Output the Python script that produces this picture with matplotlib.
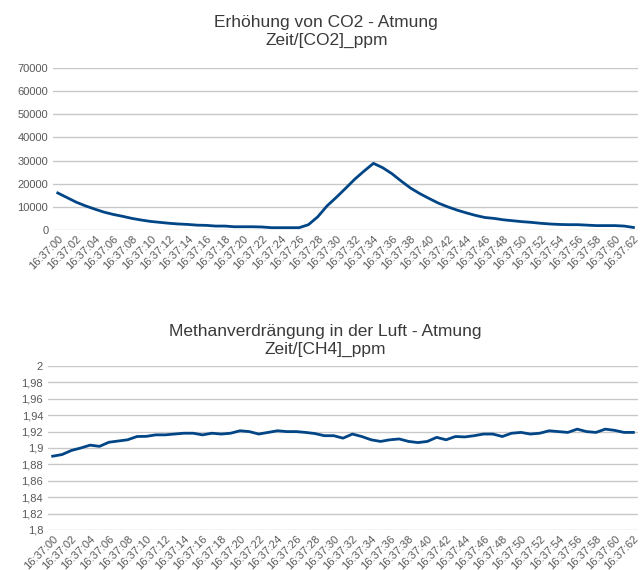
import matplotlib.pyplot as plt
from matplotlib.ticker import FuncFormatter, MultipleLocator

# time stamps as printed on the chart (seconds run 00..62)
zeit = [f"16:37:{s:02d}" for s in range(63)]

co2_ppm = [
    16000, 14000, 12000, 10400, 9000, 7700, 6700, 5900, 5000, 4300,
    3700, 3300, 2900, 2600, 2400, 2100, 2000, 1700, 1700, 1400,
    1400, 1400, 1300, 1000, 1000, 1000, 1000, 2300, 5700, 10400,
    14100, 18000, 22000, 25500, 28800, 26900, 24300, 21100, 18100, 15700,
    13600, 11600, 10000, 8600, 7400, 6300, 5400, 5000, 4400, 4000,
    3600, 3300, 2900, 2600, 2400, 2300, 2300, 2100, 1900, 1900,
    1900, 1700, 1100,
]

ch4_ppm = [
    1.890, 1.892, 1.897, 1.900, 1.9035, 1.902, 1.907, 1.9085, 1.910, 1.914,
    1.9142, 1.916, 1.916, 1.917, 1.918, 1.918, 1.916, 1.918, 1.917, 1.918,
    1.921, 1.920, 1.917, 1.919, 1.921, 1.920, 1.920, 1.919, 1.9176, 1.915,
    1.915, 1.912, 1.917, 1.914, 1.910, 1.908, 1.910, 1.911, 1.908, 1.9066,
    1.908, 1.913, 1.910, 1.914, 1.9135, 1.915, 1.917, 1.917, 1.914, 1.918,
    1.919, 1.917, 1.918, 1.921, 1.920, 1.919, 1.923, 1.920, 1.919, 1.923,
    1.9215, 1.919, 1.919,
]

LINE = '#004586'
TXT = '#595959'
TITLE = '#3a3a3a'
GRID = '#c8c8c8'

plt.rcParams['font.family'] = ['Liberation Sans', 'DejaVu Sans']


def style_axes(ax, title, title_x, pad):
    x = range(len(zeit))
    ax.set_xlim(-0.5, len(zeit) - 0.5)
    ax.set_xticks(list(x)[::2])
    ax.set_xticklabels(zeit[::2], rotation=45, ha='right', va='top',
                       rotation_mode='anchor', fontsize=8, color=TXT)
    ax.tick_params(axis='both', length=0, labelsize=8, labelcolor=TXT)
    ax.tick_params(axis='x', pad=3)
    for s in ax.spines.values():
        s.set_visible(False)
    ax.grid(axis='y', color=GRID, linewidth=1)
    ax.set_axisbelow(True)
    ax.set_title(title, fontsize=12.5, color=TITLE, pad=pad, x=title_x,
                 linespacing=1.2)


fig = plt.figure(figsize=(6.4, 5.7), dpi=100)

# CO2 chart
ax1 = fig.add_axes([0.083, 0.5965, 0.914, 0.2842])
ax1.plot(range(len(co2_ppm)), co2_ppm, color=LINE, linewidth=2)
ax1.set_ylim(0, 70000)
ax1.yaxis.set_major_locator(MultipleLocator(10000))
style_axes(ax1, 'Erhöhung von CO2 - Atmung\nZeit/[CO2]_ppm', 0.467, 17)

# CH4 chart
ax2 = fig.add_axes([0.075, 0.0702, 0.922, 0.2877])
ax2.plot(range(len(ch4_ppm)), ch4_ppm, color=LINE, linewidth=2)
ax2.set_ylim(1.8, 2.0)
ax2.yaxis.set_major_locator(MultipleLocator(0.02))
ax2.yaxis.set_major_formatter(FuncFormatter(
    lambda v, p: f"{v:.2f}".rstrip('0').rstrip('.').replace('.', ',')))
style_axes(ax2, 'Methanverdrängung in der Luft - Atmung\nZeit/[CH4]_ppm',
           0.47, 9)

fig.savefig('out.png', dpi=100)
plt.close(fig)
